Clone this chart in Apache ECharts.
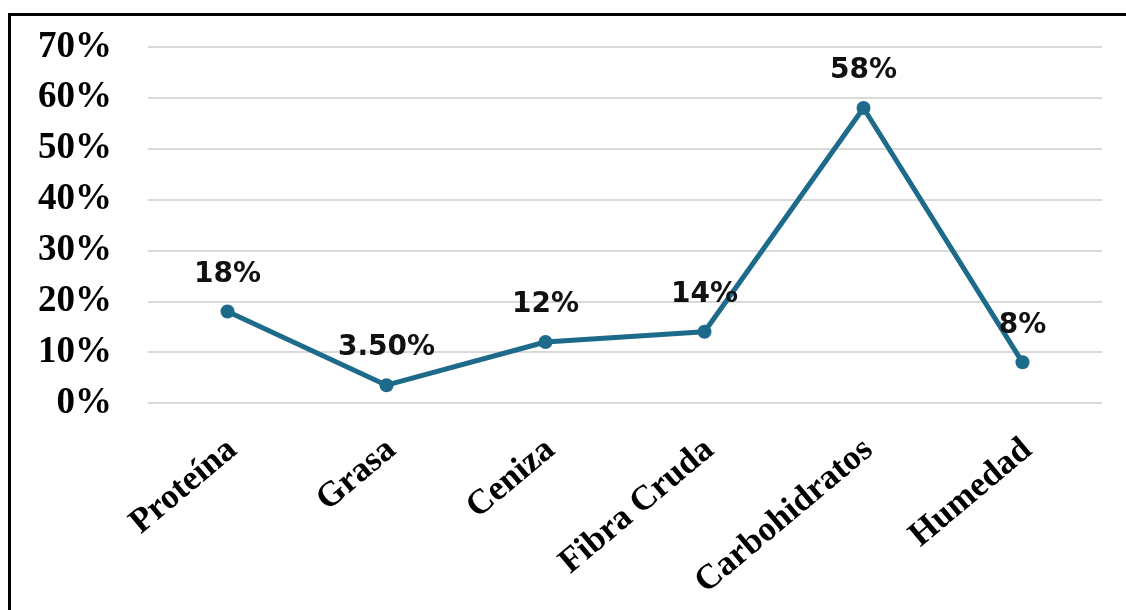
<!DOCTYPE html>
<html>
<head>
<meta charset="utf-8">
<script src="https://cdn.jsdelivr.net/npm/echarts@6/dist/echarts.min.js"></script>
<style>
  html, body { margin: 0; padding: 0; background: #fff; }
  #chart { width: 1126px; height: 610px; }
</style>
</head>
<body>
<div id="chart"></div>
<script>
// Composition of the product (% of total)
const categories = ['Proteína', 'Grasa', 'Ceniza', 'Fibra Cruda', 'Carbohidratos', 'Humedad'];
const values = [18, 3.5, 12, 14, 58, 8];
const valueLabels = ['18%', '3.50%', '12%', '14%', '58%', '8%'];
const yTicks = [0, 10, 20, 30, 40, 50, 60, 70];

const chart = echarts.init(document.getElementById('chart'), null, { renderer: 'canvas' });

chart.setOption({
  backgroundColor: '#ffffff',
  animation: false,
  graphic: [{
    type: 'rect',
    shape: { x: 9.5, y: 14.5, width: 1300, height: 800 },
    style: { fill: 'none', stroke: '#000', lineWidth: 3 },
    silent: true,
    z: 100
  }],
  grid: { left: 148, right: 24, top: 47, bottom: 207, containLabel: false },
  xAxis: {
    type: 'category',
    data: categories,
    boundaryGap: true,
    axisLine: { show: false },
    axisTick: { show: false },
    axisLabel: {
      rotate: 40,
      margin: 24,
      interval: 0,
      align: 'right',
      verticalAlign: 'top',
      padding: [0, 8, 0, 0],
      color: '#000',
      fontFamily: '"Liberation Serif", "Times New Roman", serif',
      fontWeight: 'bold',
      fontSize: 35
    }
  },
  yAxis: {
    type: 'value',
    min: yTicks[0],
    max: yTicks[yTicks.length - 1],
    interval: 10,
    axisLine: { show: false },
    axisTick: { show: false },
    splitLine: { lineStyle: { color: '#d9d9d9', width: 2 } },
    axisLabel: {
      margin: 36,
      color: '#000',
      fontFamily: '"Liberation Serif", "Times New Roman", serif',
      fontWeight: 'bold',
      fontSize: 37,
      formatter: v => v + '%'
    }
  },
  series: [{
    type: 'line',
    data: values,
    symbol: 'circle',
    symbolSize: 14,
    lineStyle: { color: '#1d6a8a', width: 5 },
    itemStyle: { color: '#1d6a8a' },
    label: {
      show: true,
      position: 'top',
      distance: 16,
      color: '#111',
      fontFamily: '"DejaVu Sans", sans-serif',
      fontWeight: 'bold',
      fontSize: 28,
      formatter: p => valueLabels[p.dataIndex]
    }
  }]
});
</script>
</body>
</html>
